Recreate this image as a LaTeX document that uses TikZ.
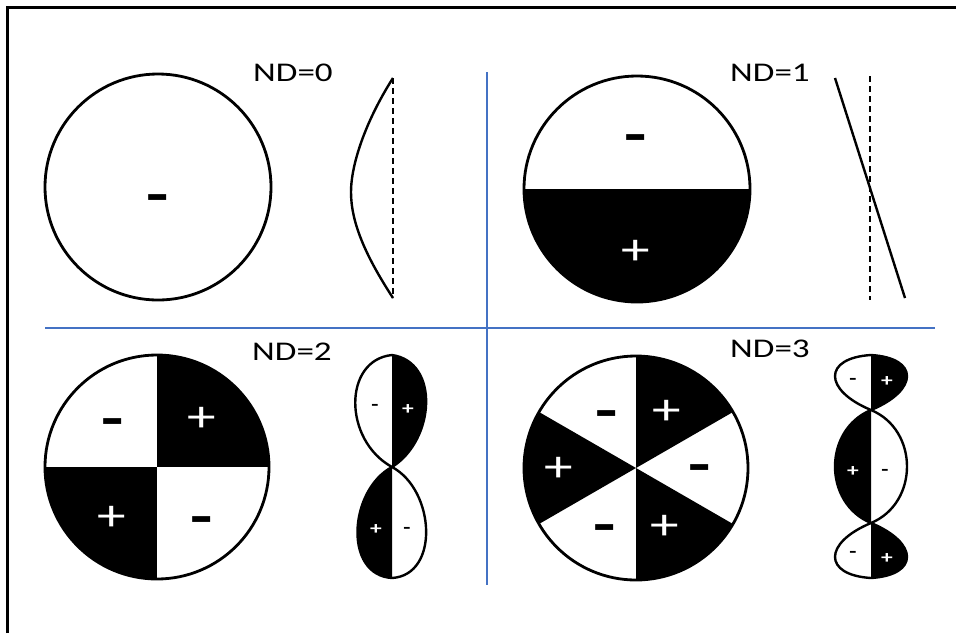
\documentclass[tikz,border=0pt]{standalone}
\usepackage{fontspec}
\setmainfont{Carlito}
\newfontfamily\labelfont{Carlito}[FakeStretch=1.3]
\usetikzlibrary{calc}
\definecolor{cblue}{HTML}{4472C4}
\tikzset{
  ring/.style={draw=black, line width=2.8pt},
  lobe/.style={draw=black, line width=2.4pt, line join=round},
  midline/.style={draw=black, dashed, dash pattern=on 6pt off 4pt, line width=2.6pt},
  divider/.style={draw=cblue, line width=1.6pt},
  title/.style={font=\labelfont\fontsize{27}{30}\selectfont},
  minussign/.style={font=\labelfont\bfseries\fontsize{56}{60}\selectfont, text=black, inner sep=0, anchor=base, yshift=-16pt},
  plussign/.style={font=\labelfont\fontsize{44}{48}\selectfont, text=white, inner sep=0, anchor=base, yshift=-14pt},
  sminus/.style={font=\labelfont\bfseries\fontsize{18}{20}\selectfont, text=black, inner sep=0, anchor=base, yshift=-5pt},
  splus/.style={font=\labelfont\bfseries\fontsize{18}{20}\selectfont, text=white, inner sep=0, anchor=base, yshift=-6pt},
}

\begin{document}
\begin{tikzpicture}[x=1pt, y=-1pt]
  \useasboundingbox (0,0) rectangle (956,633);
  % ---------- frame and dividers ----------
  \draw[line width=3pt] (7,633) -- (7,7) -- (956,7);
  \coordinate (hl) at (45,328); \coordinate (hr) at (935,328);
  \coordinate (vt) at (487,72); \coordinate (vb) at (487,585);
  \draw[divider] (hl) -- (hr);
  \draw[divider] (vt) -- (vb);

  % ---------- ND=0 ----------
  \coordinate (c0) at (158,187);
  \draw[ring] (c0) circle (113);
  \node[minussign] (m0) at (158,197) {-};
  \node[title] (t0) at (293,73) {ND=0};
  \coordinate (p0t) at (393,78); \coordinate (p0b) at (393,298);
  \draw[midline] (p0t) -- (p0b);
  \draw[lobe] (p0t) .. controls (365,122) and (351,165) .. (351,192)
                    .. controls (351,222) and (365,255) .. (p0b);

  % ---------- ND=1 ----------
  \coordinate (c1) at (637,189);
  \begin{scope}
    \clip (c1) circle (113);
    \fill (515,189) rectangle (760,310);
  \end{scope}
  \draw[ring] (c1) circle (113);
  \node[minussign] (m1) at (636,137) {-};
  \node[plussign] (q1) at (636,250) {+};
  \node[title] (t1) at (770,73) {ND=1};
  \coordinate (p1t) at (870,76); \coordinate (p1b) at (870,300);
  \draw[midline] (p1t) -- (p1b);
  \coordinate (s1t) at (835,78); \coordinate (s1b) at (905,298);
  \draw[lobe] (s1t) -- (s1b);

  % ---------- ND=2 ----------
  \coordinate (c2) at (157,467);
  \begin{scope}
    \clip (c2) circle (112);
    \fill (157,350) rectangle (275,467);
    \fill (40,467) rectangle (157,585);
  \end{scope}
  \draw[ring] (c2) circle (112);
  \node[minussign] (m2a) at (113,421) {-};
  \node[plussign]  (q2a) at (202,417) {+};
  \node[plussign]  (q2b) at (112,516) {+};
  \node[minussign] (m2b) at (202,519) {-};
  \node[title] (t2) at (292,352) {ND=2};
  \coordinate (p2t) at (392,355); \coordinate (p2m) at (392,467); \coordinate (p2b) at (392,578);
  \fill (p2t) .. controls (440,362) and (435,440) .. (p2m) -- cycle;
  \fill (p2m) .. controls (349,490) and (343,575) .. (p2b) -- cycle;
  \draw[lobe] (p2t) .. controls (343,360) and (343,440) .. (p2m)
                    .. controls (435,490) and (440,575) .. (p2b)
                    .. controls (343,575) and (349,490) .. (p2m)
                    .. controls (435,440) and (440,362) .. (p2t);
  \node[sminus] (m2c) at (375,405) {-};
  \node[splus]  (q2c) at (408,408) {+};
  \node[splus]  (q2d) at (376,528) {+};
  \node[sminus] (m2d) at (407,528) {-};

  % ---------- ND=3 ----------
  \coordinate (c3) at (636,468);
  \begin{scope}
    \clip (c3) circle (112);
    \foreach \a in {30,150,270}
      \fill (c3) -- +(\a:140) -- +(\a+60:140) -- cycle;
  \end{scope}
  \draw[ring] (c3) circle (112);
  \node[minussign] (m3a) at (607,413) {-};
  \node[plussign]  (q3a) at (667,410) {+};
  \node[plussign]  (q3b) at (559,467) {+};
  \node[minussign] (m3b) at (700,467) {-};
  \node[minussign] (m3c) at (605,527) {-};
  \node[plussign]  (q3c) at (665,525) {+};
  \node[title] (t3) at (770,349) {ND=3};
  \coordinate (p3t) at (871,355); \coordinate (p3u) at (871,410);
  \coordinate (p3l) at (871,523); \coordinate (p3b) at (871,578);
  \fill (p3t) .. controls (919,358) and (919,390) .. (p3u) -- cycle;
  \fill (p3u) .. controls (823,430) and (823,503) .. (p3l) -- cycle;
  \fill (p3l) .. controls (919,543) and (919,575) .. (p3b) -- cycle;
  \draw[lobe] (p3t) .. controls (823,358) and (823,390) .. (p3u)
                    .. controls (919,430) and (919,503) .. (p3l)
                    .. controls (823,543) and (823,575) .. (p3b)
                    .. controls (919,575) and (919,543) .. (p3l)
                    .. controls (823,503) and (823,430) .. (p3u)
                    .. controls (919,390) and (919,358) .. (p3t);
  \node[sminus] (m3d) at (853,379) {-};
  \node[splus]  (q3d) at (887,380) {+};
  \node[splus]  (q3e) at (853,470) {+};
  \node[sminus] (m3e) at (885,470) {-};
  \node[sminus] (m3f) at (853,552) {-};
  \node[splus]  (q3f) at (887,557) {+};
\end{tikzpicture}
\end{document}
